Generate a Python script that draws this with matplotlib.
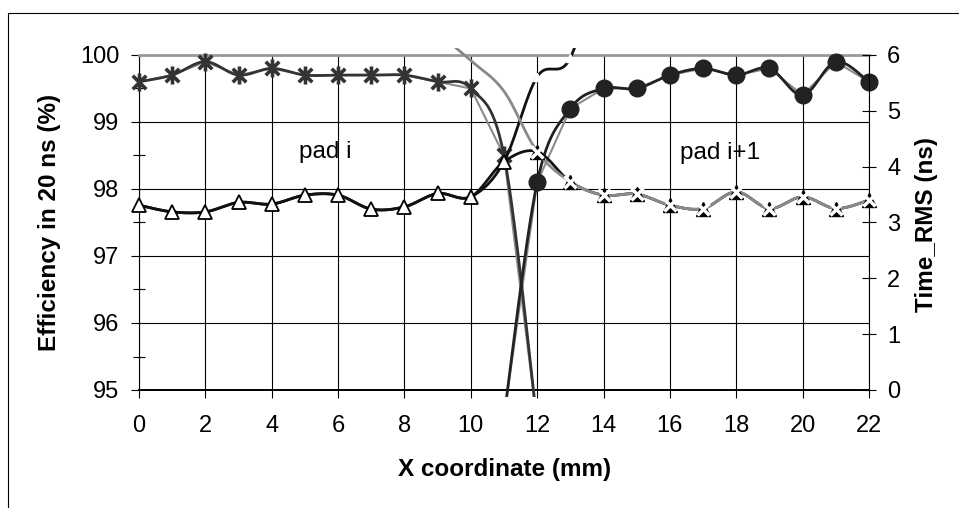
import numpy as np
import matplotlib
matplotlib.use("Agg")
import matplotlib.pyplot as plt
from matplotlib.path import Path
from matplotlib.patches import Rectangle

plt.rcParams['font.family'] = ['Liberation Sans', 'DejaVu Sans']

# ---- data -------------------------------------------------------------
nan = np.nan
x_mm = np.arange(23)

# efficiency in 20 ns (%) for the two neighbouring pads
eff_pad_i = np.array([99.6, 99.7, 99.9, 99.7, 99.8, 99.7, 99.7, 99.7, 99.7,
                      99.6, 99.5, 98.5, 94.5] + [nan] * 10)
eff_pad_i1 = np.array([nan] * 11 + [94.6, 98.1, 99.2, 99.5, 99.5, 99.7,
                                    99.8, 99.7, 99.8, 99.4, 99.9, 99.6])

# time RMS (ns) for the two pads
rms_pad_i = np.array([3.31, 3.19, 3.19, 3.36, 3.33, 3.49, 3.49, 3.24, 3.28,
                      3.52, 3.46, 4.09, 5.61, 5.95, 8.0] + [nan] * 8)
rms_pad_i1 = np.array([nan] * 9 + [6.4, 5.9, 5.35, 4.27, 3.73, 3.49, 3.51,
                                   3.31, 3.25, 3.55, 3.25, 3.46, 3.25, 3.40])
# best of the two pads at each position
rms_best = np.fmin(rms_pad_i, rms_pad_i1)

x_ticks = list(range(0, 23, 2))
eff_ticks = [95, 96, 97, 98, 99, 100]
rms_ticks = [0, 1, 2, 3, 4, 5, 6]

# ---- figure -----------------------------------------------------------
W, H = 959, 508
fig = plt.figure(figsize=(W / 100, H / 100), dpi=100)
L, R, T, B = 139, 869, 55, 390
ax = fig.add_axes([L / W, 1 - B / H, (R - L) / W, (B - T) / H])
ax2 = ax.twinx()

ax.set_xlim(0, 22)
ax.set_ylim(95, 100)
ax2.set_ylim(0, 6)

ax.set_xticks(x_ticks)
ax.set_yticks(eff_ticks)
ax.set_yticks(np.arange(95.5, 100, 1.0), minor=True)
ax2.set_yticks(rms_ticks)

ax.set_axisbelow(True)
ax.grid(True, which='major', color='black', lw=0.8)

ax.tick_params(axis='x', direction='out', length=6, width=0.8, pad=12,
               labelsize=17)
ax.tick_params(axis='y', which='major', direction='out', length=6,
               width=0.8, pad=8, labelsize=17)
ax.tick_params(axis='y', which='minor', direction='inout', length=9,
               width=0.8)
ax2.tick_params(axis='y', direction='inout', length=10, width=0.8, pad=8,
                labelsize=17)

for name, sp in ax.spines.items():
    sp.set_color('black')
    sp.set_linewidth(0.8)
ax.spines['top'].set_color('#999999')
ax.spines['top'].set_linewidth(2.0)
ax.spines['bottom'].set_linewidth(1.4)
ax.spines['right'].set_visible(False)
for name in ('top', 'left', 'bottom'):
    ax2.spines[name].set_visible(False)
ax2.spines['right'].set_color('black')
ax2.spines['right'].set_linewidth(0.8)


def smooth(axis, xs, ys, n=30):
    """Excel-style smoothed line: cubic Bezier through the points,
    built in display space and mapped back to data space."""
    ok = np.isfinite(ys)
    pts = axis.transData.transform(np.column_stack([xs[ok], ys[ok]]))
    P = np.vstack([pts[:1], pts, pts[-1:]])
    t = np.linspace(0, 1, n)[1:, None]
    out = [pts[:1]]
    for i in range(len(pts) - 1):
        p0, p1, p2, p3 = P[i], P[i + 1], P[i + 2], P[i + 3]
        c1 = p1 + (p2 - p0) / 6.0
        c2 = p2 - (p3 - p1) / 6.0
        seg = ((1 - t) ** 3 * p1 + 3 * (1 - t) ** 2 * t * c1
               + 3 * (1 - t) * t ** 2 * c2 + t ** 3 * p2)
        out.append(seg)
    xy = axis.transData.inverted().transform(np.vstack(out))
    return xy[:, 0], xy[:, 1]


def loose_clip(artists, axis):
    # lines may run a few pixels past the plot frame
    px_w, px_h = R - L, B - T
    for a in artists:
        a.set_clip_path(Rectangle((-14 / px_w, -7 / px_h),
                                  1 + 28 / px_w, 1 + 14 / px_h,
                                  transform=axis.transAxes))


dark = '#333333'
grey = '#8a8a8a'

star = Path([(0, -1), (0, 1), (-0.75, -0.75), (0.75, 0.75),
             (-0.75, 0.75), (0.75, -0.75)],
            [Path.MOVETO, Path.LINETO] * 3)

# efficiency curves (left axis)
arts = []
arts += ax.plot(x_mm, eff_pad_i, color=grey, lw=1.5, zorder=2)
arts += ax.plot(x_mm, eff_pad_i1, color=grey, lw=1.5, zorder=2)
sx, sy = smooth(ax, x_mm, eff_pad_i)
arts += ax.plot(sx, sy, color=dark, lw=2.0, zorder=3)
sx, sy = smooth(ax, x_mm, eff_pad_i1)
arts += ax.plot(sx, sy, color='#222222', lw=2.0, zorder=3)
arts += ax.plot(x_mm, eff_pad_i, ls='none', marker=star, ms=13, mew=2.6,
                color=dark, zorder=4)
arts += ax.plot(x_mm, eff_pad_i1, ls='none', marker='o', ms=12,
                color='#222222', zorder=4)
loose_clip(arts, ax)

# time RMS curves (right axis)
arts = []
sx, sy = smooth(ax2, x_mm, rms_pad_i)
arts += ax2.plot(sx, sy, color='#111111', lw=2.0, zorder=3)
sx, sy = smooth(ax2, x_mm, rms_best)
arts += ax2.plot(sx, sy, color='#111111', lw=2.0, zorder=3)
sx, sy = smooth(ax2, x_mm, rms_pad_i1)
arts += ax2.plot(sx, sy, color=grey, lw=2.0, zorder=3.5)
arts += ax2.plot(x_mm[:12], rms_pad_i[:12], ls='none', marker='^', ms=10.5,
                 mfc='white', mec='black', mew=1.3, zorder=4)
arts += ax2.plot(x_mm[12:14], rms_pad_i[12:14], ls='none', marker='^',
                 ms=6, mfc='white', mec='white', zorder=4)
arts += ax2.plot(x_mm[12:], rms_pad_i1[12:], ls='none', marker='^', ms=9.5,
                 color='black', zorder=4)
arts += ax2.plot(x_mm[12:], rms_pad_i1[12:], ls='none', marker='x', ms=8.5,
                 mew=2.5, color='white', zorder=4.1)
loose_clip(arts, ax2)

# pad annotations
ax.text(5.6, 98.55, 'pad i', ha='center', va='center', fontsize=17.5,
        zorder=5)
ax.text(17.5, 98.53, 'pad i+1', ha='center', va='center', fontsize=17.5,
        zorder=5)

# axis titles
fig.text(505 / W, 1 - 469.5 / H, 'X coordinate (mm)', ha='center',
         va='center', fontsize=17.5, weight='bold')
fig.text(50 / W, 1 - 222 / H, 'Efficiency in 20 ns (%)', ha='center',
         va='center', rotation=90, fontsize=17.5, weight='bold')
fig.text(926 / W, 1 - 224 / H, 'Time_RMS (ns)', ha='center', va='center',
         rotation=90, fontsize=17.5, weight='bold')

# chart frame
fig.add_artist(Rectangle((8 / W, -1), 5, 2 - 13 / H, fill=False,
                         ec='black', lw=0.8, transform=fig.transFigure))

fig.savefig('out.png', dpi=100)
